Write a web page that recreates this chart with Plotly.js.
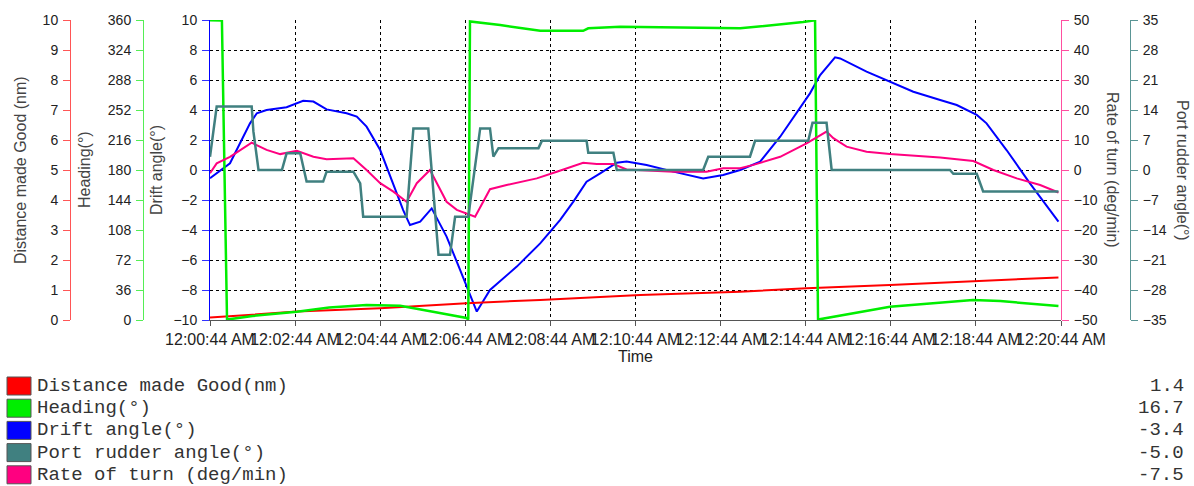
<!DOCTYPE html>
<html><head><meta charset="utf-8">
<script src="https://cdn.plot.ly/plotly-3.0.1.min.js"></script>
<style>html,body{margin:0;padding:0;background:#fff;overflow:hidden}#chart{width:1194px;height:486px}</style>
</head><body><div id="chart"></div><script>
// minutes after 12:00:44 AM
const distT = [0, 2.04, 4.00, 6.03, 7.76, 10.11, 12.46, 14.02, 15.98, 18.02, 19.94];
const distV = [0.08, 0.28, 0.39, 0.56, 0.67, 0.83, 0.94, 1.06, 1.17, 1.31, 1.42];

const headT = [0, 0.28, 0.40, 1.0, 2.04, 2.8, 3.68, 4.47, 5.24, 6.03, 6.07, 6.11, 6.82, 7.76, 8.77, 8.89, 9.64, 12.46, 13.94, 14.22, 14.29, 15.98, 17.93, 18.57, 19.94];
const headV = [359.6, 359.4, 0.5, 4.8, 10, 15, 18, 17, 10, 2.4, 0.5, 358.2, 354, 347, 347, 350, 352, 350, 357.6, 359.6, 0.5, 16, 24, 22.8, 16.7];

const driftT = [0, 0.47, 0.94, 1.10, 1.33, 1.80, 2.19, 2.43, 2.74, 3.21, 3.45, 3.68, 4.00, 4.31, 4.54, 4.70, 4.94, 5.21, 5.56, 5.88, 6.27, 6.58, 7.21, 7.76, 8.23, 8.54, 8.85, 9.17, 9.56, 9.79, 10.26, 10.89, 11.59, 12.06, 12.46, 12.93, 13.40, 14.10, 14.34, 14.69, 14.81, 15.43, 15.98, 16.53, 17.16, 17.55, 18.02, 18.25, 18.72, 19.27, 19.94];
const driftV = [-0.55, 0.45, 3.11, 3.78, 4.0, 4.18, 4.62, 4.56, 4.04, 3.78, 3.56, 2.89, 1.33, -0.89, -2.67, -3.67, -3.44, -2.56, -4.44, -6.67, -9.44, -8.0, -6.44, -4.89, -3.33, -2.11, -0.78, -0.22, 0.49, 0.56, 0.33, -0.11, -0.56, -0.33, 0.0, 0.56, 2.22, 5.11, 6.33, 7.51, 7.44, 6.56, 5.89, 5.22, 4.67, 4.33, 3.67, 3.11, 1.33, -0.89, -3.44];

const rudT = [0, 0.157, 0.98, 1.02, 1.14, 1.69, 1.80, 2.12, 2.27, 2.66, 2.74, 3.37, 3.53, 3.60, 4.62, 4.78, 5.13, 5.37, 5.64, 5.76, 6.07, 6.35, 6.58, 6.66, 6.78, 7.72, 7.80, 8.85, 8.89, 9.48, 9.56, 11.59, 11.71, 12.69, 12.81, 14.06, 14.16, 14.49, 14.61, 17.39, 17.47, 18.02, 18.17, 19.94];
const rudV = [3.1, 14.8, 14.8, 9, 0, 0, 3.9, 3.9, -2.7, -2.7, -0.4, -0.4, -3.1, -10.9, -10.9, 9.7, 9.7, -19.8, -19.8, -10.9, -10.9, 9.7, 9.7, 3.1, 5.1, 5.1, 6.8, 6.8, 4.0, 4.0, 0, 0, 3.1, 3.1, 6.8, 6.8, 11.0, 11.0, 0, 0, -0.9, -0.9, -5.0, -5.0];

const rateT = [0, 0.157, 0.47, 0.98, 1.33, 1.65, 2.04, 2.43, 2.74, 3.37, 3.68, 4.00, 4.31, 4.62, 4.86, 5.17, 5.56, 5.80, 6.23, 6.58, 6.97, 7.68, 8.15, 8.77, 9.09, 9.48, 9.79, 10.89, 11.67, 12.06, 12.46, 12.77, 13.40, 14.02, 14.49, 14.65, 14.96, 15.43, 15.98, 17.16, 17.94, 18.41, 18.96, 19.51, 19.94];
const rateV = [-1.1, 2.2, 4.4, 9.1, 6.7, 5.3, 6.4, 4.4, 3.6, 3.9, 0, -4.4, -7.2, -10.6, -4.4, 0, -10.6, -13.3, -15.6, -6.4, -5.0, -2.8, -0.6, 2.4, 2.0, 2.0, 0.2, -0.6, -0.6, 0.6, 0.6, 1.7, 4.4, 8.9, 12.8, 10.6, 7.8, 6.1, 5.3, 4.2, 3.0, 0, -2.8, -5.0, -7.5];

const seriesNames = ['Distance made Good(nm)', 'Heading(°)', 'Drift angle(°)', 'Port rudder angle(°)', 'Rate of turn (deg/min)'];
const seriesColors = ['#ff0000', '#00ee00', '#0000ff', '#408080', '#ff0080'];
const axisTitles = ['Distance made Good (nm)', 'Heading(°)', 'Drift angle(°)', 'Rate of turn (deg/min)', 'Port rudder angle(°)'];

function pad(n){return String(n).padStart(2,'0');}
function tStr(m){
  const ms = Math.round((44 + m*60)*1000);
  const h = Math.floor(ms/3600000), mi = Math.floor((ms%3600000)/60000);
  const s = (ms%60000)/1000;
  return '2024-01-01 ' + pad(h) + ':' + pad(mi) + ':' + s.toFixed(3).padStart(6,'0');
}
const X = a => a.map(tStr);

const W = 1194, H = 486;
const PL = 210, PR = 1061, PT = 20, PB = 320;
const px = v => v / W;
const py = v => (PB - v) / (PB - PT);

const traces = [
  {x: X(distT), y: distV, yaxis: 'y2', line: {color: seriesColors[0], width: 2}},
  {x: X(rudT), y: rudV, yaxis: 'y5', line: {color: seriesColors[3], width: 2.5}},
  {x: X(rateT), y: rateV, yaxis: 'y4', line: {color: seriesColors[4], width: 2}},
  {x: X(driftT), y: driftV, yaxis: 'y', line: {color: seriesColors[2], width: 2}},
  {x: X(headT), y: headV, yaxis: 'y3', line: {color: seriesColors[1], width: 2.5}}
].map(t => Object.assign({type: 'scatter', mode: 'lines', hoverinfo: 'skip', showlegend: false}, t));

const tickFont = {family: 'Liberation Sans, Arial, sans-serif', size: 14, color: '#222'};
function yax(extra){
  return Object.assign({showgrid: false, zeroline: false, showline: true, linewidth: 1,
    ticks: 'outside', ticklen: 7, tickwidth: 1, tickfont: tickFont, fixedrange: true,
    ticklabelstandoff: 2}, extra);
}

const layout = {
  width: W, height: H,
  margin: {l: 0, r: 0, t: PT, b: H - PB},
  paper_bgcolor: '#fff', plot_bgcolor: '#fff',
  showlegend: false,
  xaxis: {
    type: 'date', domain: [px(PL), px(PR)],
    range: [tStr(0), tStr(20)], tick0: tStr(0), dtick: 120000,
    tickformat: '%I:%M:%S %p', tickangle: 0,
    tickfont: {family: 'Liberation Sans, Arial, sans-serif', size: 16, color: '#222'},
    showgrid: true, gridcolor: '#000', gridwidth: 1, griddash: '3px,3px',
    zeroline: false, showline: true, linecolor: '#555', linewidth: 1,
    ticks: 'outside', ticklen: 5, tickcolor: '#555',
    title: {text: 'Time', font: {family: 'Liberation Sans, Arial, sans-serif', size: 16, color: '#222'}, standoff: 3},
    fixedrange: true
  },
  yaxis: yax({range: [-10, 10], dtick: 2, tick0: -10, side: 'left', anchor: 'x',
    linecolor: '#0000ff', tickcolor: '#3333ff', showgrid: true, gridcolor: '#000', gridwidth: 1, griddash: '3px,3px'}),
  yaxis2: yax({range: [0, 10], dtick: 1, tick0: 0, side: 'left', anchor: 'free', overlaying: 'y',
    position: px(70), linecolor: '#ff5555', tickcolor: '#ff5555'}),
  yaxis3: yax({range: [0, 360], dtick: 36, tick0: 0, side: 'left', anchor: 'free', overlaying: 'y',
    position: px(143), linecolor: '#55ee55', tickcolor: '#55ee55'}),
  yaxis4: yax({range: [-50, 50], dtick: 10, tick0: -50, side: 'right', anchor: 'free', overlaying: 'y',
    position: px(PR), linecolor: '#ff4fa0', tickcolor: '#ff4fa0'}),
  yaxis5: yax({range: [-35, 35], dtick: 7, tick0: -35, side: 'right', anchor: 'free', overlaying: 'y',
    position: px(1130), linecolor: '#5a9595', tickcolor: '#5a9595'}),
  annotations: [],
  shapes: []
};

const titleFont = {family: 'Liberation Sans, Arial, sans-serif', size: 16, color: '#444'};
const titleX = [20, 84, 156, 1113, 1183];
const titleAngle = [-90, -90, -90, 90, 90];
axisTitles.forEach((t, i) => {
  layout.annotations.push({text: t, xref: 'paper', yref: 'paper', x: px(titleX[i]), y: 0.5,
    xanchor: 'center', yanchor: 'middle', textangle: titleAngle[i], showarrow: false, font: titleFont});
});

// legend table below the chart
const lastVals = [distV, headV, driftV, rudV, rateV].map(a => a[a.length - 1]);
const legFont = {family: 'Liberation Mono, Courier New, monospace', size: 19, color: '#333'};
seriesNames.forEach((n, i) => {
  const cy = 386 + i * 22.2;
  layout.shapes.push({type: 'rect', xref: 'paper', yref: 'paper',
    x0: px(7), x1: px(31), y0: py(cy - 9), y1: py(cy + 9),
    fillcolor: seriesColors[i], line: {color: '#555', width: 1}});
  layout.annotations.push({text: n, xref: 'paper', yref: 'paper', x: px(35), y: py(cy),
    xanchor: 'left', yanchor: 'middle', showarrow: false, font: legFont});
  layout.annotations.push({text: lastVals[i].toFixed(1), xref: 'paper', yref: 'paper', x: px(1186), y: py(cy),
    xanchor: 'right', yanchor: 'middle', showarrow: false, font: legFont});
});

Plotly.newPlot('chart', traces, layout, {displayModeBar: false, staticPlot: true});
</script></body></html>
